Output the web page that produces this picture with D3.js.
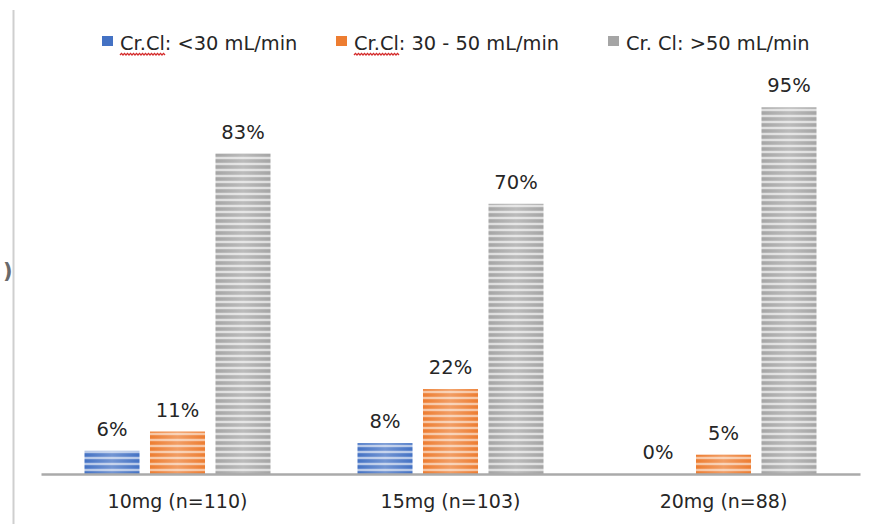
<!DOCTYPE html>
<html><head><meta charset="utf-8">
<script src="https://cdn.jsdelivr.net/npm/d3@7"></script>
<style>
html,body{margin:0;padding:0;background:#fff;}
svg{display:block;}
</style></head>
<body>
<svg id="chart" width="877" height="524"></svg>
<script>
const categories = ["10mg (n=110)", "15mg (n=103)", "20mg (n=88)"];
const seriesNames = ["Cr.Cl: <30 mL/min", "Cr.Cl: 30 - 50 mL/min", "Cr. Cl: >50 mL/min"];
const low = [6, 8, 0];
const mid = [11, 22, 5];
const high = [83, 70, 95];
const seriesColors = ["#4472C4", "#ED7D31", "#A5A5A5"];
const seriesLight = ["#c9d6ee", "#f9d3b8", "#e8e8e8"];

const svg = d3.select("#chart");
const W = 877, H = 524;
const baseY = 474;

const values = [low, mid, high];
const data = categories.map((c, i) => ({cat: c, vals: values.map(v => v[i])}));

const x0 = d3.scaleBand().domain(categories).range([41, 860]).paddingInner(0).paddingOuter(0);
const x1 = d3.scaleBand().domain(d3.range(3)).range([43.5, 273 - 43.5]).paddingInner(0.16);
const y = d3.scaleLinear().domain([0, 100]).range([baseY, baseY - 386]);

// patterns
const defs = svg.append("defs");
seriesColors.forEach((col, k) => {
  const p = defs.append("pattern").attr("id", "pat" + k)
    .attr("patternUnits", "userSpaceOnUse").attr("width", 10).attr("height", 6);
  p.append("rect").attr("width", 10).attr("height", 6).attr("fill", col);
  p.append("rect").attr("y", 1).attr("width", 10).attr("height", 2.2).attr("fill", seriesLight[k]).attr("opacity", 0.85);
  p.append("rect").attr("y", 0.5).attr("width", 10).attr("height", 0.6).attr("fill", seriesLight[k]).attr("opacity", 0.4);
  const g = defs.append("linearGradient").attr("id", "fade" + k).attr("x1", 0).attr("x2", 1).attr("y1", 0).attr("y2", 0);
  g.append("stop").attr("offset", "0%").attr("stop-color", "#fff").attr("stop-opacity", 0);
  g.append("stop").attr("offset", "50%").attr("stop-color", "#fff").attr("stop-opacity", 0.25);
  g.append("stop").attr("offset", "100%").attr("stop-color", "#fff").attr("stop-opacity", 0);
});

// left edge artifact
svg.append("line").attr("x1", 13.5).attr("x2", 13.5).attr("y1", 10).attr("y2", H)
  .attr("stroke", "#cfcfcf").attr("stroke-width", 2);
svg.append("text").attr("x", 3).attr("y", 278).text(")")
  .attr("font-family", "DejaVu Sans").attr("font-size", 21).attr("font-weight", "bold").attr("fill", "#6a6a6a");

// bars
const groups = svg.append("g").selectAll("g").data(data).join("g")
  .attr("transform", d => `translate(${x0(d.cat)},0)`);

groups.selectAll("rect.bar").data(d => d.vals.map((v, k) => ({v, k})))
  .join("rect").attr("class", "bar")
  .attr("x", d => x1(d.k)).attr("width", x1.bandwidth())
  .attr("y", d => y(d.v)).attr("height", d => baseY - y(d.v))
  .attr("fill", d => `url(#pat${d.k})`);
groups.selectAll("rect.fade").data(d => d.vals.map((v, k) => ({v, k})))
  .join("rect").attr("class", "fade")
  .attr("x", d => x1(d.k)).attr("width", x1.bandwidth())
  .attr("y", d => y(d.v)).attr("height", d => baseY - y(d.v))
  .attr("fill", d => `url(#fade${d.k})`);

groups.selectAll("text.lbl").data(d => d.vals.map((v, k) => ({v, k})))
  .join("text").attr("class", "lbl")
  .attr("x", d => x1(d.k) + x1.bandwidth() / 2)
  .attr("y", d => y(d.v) - 15)
  .attr("text-anchor", "middle")
  .attr("font-family", "DejaVu Sans").attr("font-size", 19.5).attr("fill", "#262626")
  .text(d => d.v + "%");

// axis
const xAxis = svg.append("g").attr("transform", `translate(0,${baseY})`)
  .call(d3.axisBottom(x0).tickSize(0).tickPadding(21));
xAxis.select(".domain").attr("stroke", "#aaaaaa").attr("stroke-width", 2.5);
xAxis.selectAll("text").attr("font-family", "DejaVu Sans").attr("font-size", 19).attr("fill", "#262626");

// legend
const legendTextX = [120, 354, 626];
const leg = svg.append("g").selectAll("g").data(seriesNames).join("g")
  .attr("transform", (d, i) => `translate(${legendTextX[i]},0)`);
leg.append("rect").attr("x", -18).attr("y", 36).attr("width", 11).attr("height", 10)
  .attr("fill", (d, i) => seriesColors[i]);
leg.append("text").attr("x", 0).attr("y", 50)
  .attr("font-family", "DejaVu Sans").attr("font-size", 19.4).attr("fill", "#262626")
  .text(d => d);
// red spell-check squiggles under "Cr.Cl"
[0, 1].forEach(i => {
  const x = legendTextX[i], w = 45;
  let p = `M${x},55`;
  for (let s = 0; s < w; s += 3) p += ` l1.5,-1.6 l1.5,1.6`;
  svg.append("path").attr("d", p).attr("fill", "none").attr("stroke", "#d42a2a").attr("stroke-width", 1.3);
});
</script>
</body></html>
